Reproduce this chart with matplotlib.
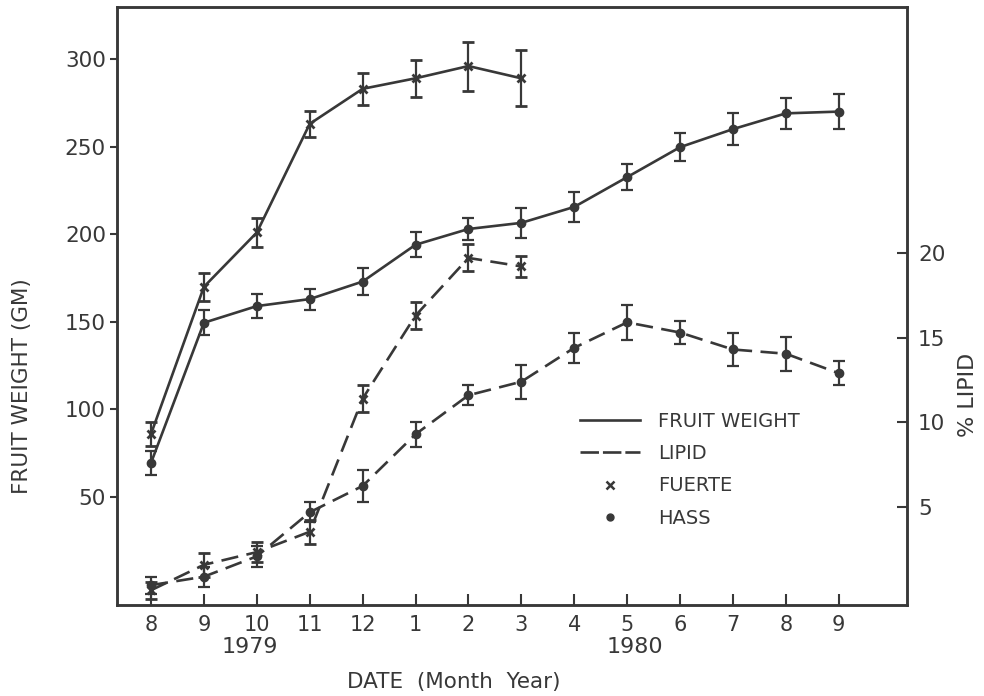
import numpy as np
import matplotlib
matplotlib.use("Agg")
import matplotlib.pyplot as plt
from matplotlib.lines import Line2D

# months from Aug 1979 to Sep 1980
months = ['8', '9', '10', '11', '12', '1', '2', '3', '4', '5', '6', '7', '8', '9']

# fruit weight (GM)
fuerte_wt = [86, 170, 201, 263, 283, 289, 296, 289]
fuerte_wt_err = [7, 8, 8.5, 7.5, 9, 10.5, 14, 16]
hass_wt = [69.5, 149.5, 159, 163, 173, 194, 203, 206.5, 215.6, 232.6, 249.7, 260, 269, 270]
hass_wt_err = [7, 7, 7, 6, 7.7, 7, 6, 8.5, 8.5, 7.5, 8, 9, 9, 10]

# % lipid
fuerte_lip = [0.1, 1.6, 2.35, 3.55, 11.4, 16.3, 19.7, 19.2]
fuerte_lip_err = [0.5, 0.7, 0.6, 0.7, 0.8, 0.8, 0.8, 0.6]
hass_lip = [0.4, 0.9, 2.1, 4.7, 6.25, 9.3, 11.6, 12.4, 14.4, 15.9, 15.3, 14.3, 14.05, 12.9]
hass_lip_err = [0.5, 0.6, 0.6, 0.6, 0.95, 0.75, 0.6, 1.0, 0.9, 1.05, 0.7, 0.95, 1.0, 0.7]

col = '#383838'
lw = 1.9
dash = (6.5, 3.2)

fig = plt.figure(figsize=(9.84, 6.96), dpi=100)
ax = fig.add_axes([117 / 984, 1 - 605 / 696, (907 - 117) / 984, (605 - 7) / 696])
ax2 = ax.twinx()

xf = np.arange(len(fuerte_wt))
xh = np.arange(len(hass_wt))

ekw = dict(color=col, ecolor=col, elinewidth=1.6, capsize=4, capthick=1.6)

ax.errorbar(xf, fuerte_wt, yerr=fuerte_wt_err, lw=lw, marker='x', ms=6, mew=2, **ekw)
ax.errorbar(xh, hass_wt, yerr=hass_wt_err, lw=lw, marker='o', ms=6, **ekw)

l1 = ax2.errorbar(xf, fuerte_lip, yerr=fuerte_lip_err, lw=lw, marker='x', ms=6, mew=2, **ekw)
l1[0].set_dashes(dash)
l2 = ax2.errorbar(xh, hass_lip, yerr=hass_lip_err, lw=lw, marker='o', ms=6, **ekw)
l2[0].set_dashes(dash)

ax.set_xlim(-0.643, 14.29)
ax.set_ylim(-11.6, 329.7)
ax2.set_ylim(-0.77, 34.5)

ax.set_xticks(xh)
ax.set_xticklabels(months)
ax.set_yticks([50, 100, 150, 200, 250, 300])
ax2.set_yticks([5, 10, 15, 20])

ax.tick_params(axis='x', direction='in', length=8, width=1.5, pad=7, labelsize=15, colors=col)
ax.tick_params(axis='y', direction='out', length=5, width=1.5, pad=3, labelsize=15.5, colors=col)
ax2.tick_params(axis='y', direction='in', length=7, width=1.5, pad=8, labelsize=15.5, colors=col)

for a in (ax, ax2):
    for s in a.spines.values():
        s.set_linewidth(1.8)
        s.set_color(col)

fig.text(250 / 984, 1 - 647 / 696, '1979', ha='center', va='center', fontsize=16, color=col)
fig.text(635 / 984, 1 - 647 / 696, '1980', ha='center', va='center', fontsize=16, color=col)
fig.text(454 / 984, 1 - 682 / 696, 'DATE  (Month  Year)', ha='center', va='center', fontsize=15.5, color=col)
fig.text(22 / 984, 1 - 386 / 696, 'FRUIT WEIGHT (GM)', ha='center', va='center', rotation=90,
         fontsize=15.5, color=col)
fig.text(968 / 984, 1 - 395 / 696, '% LIPID', ha='center', va='center', rotation=90,
         fontsize=16, color=col)

handles = [
    Line2D([], [], color=col, lw=lw),
    Line2D([], [], color=col, lw=lw, dashes=(7, 1.5)),
    Line2D([], [], color=col, lw=0, marker='x', ms=6, mew=1.8),
    Line2D([], [], color=col, lw=0, marker='o', ms=5),
]
leg = ax.legend(handles, ['FRUIT WEIGHT', 'LIPID', 'FUERTE', 'HASS'],
                loc='upper left', bbox_to_anchor=(580 / 984, 1 - 412 / 696),
                bbox_transform=fig.transFigure, frameon=False, fontsize=14,
                handlelength=3.1, handletextpad=0.9, labelspacing=0.68,
                borderpad=0, borderaxespad=0)
for t in leg.get_texts():
    t.set_color(col)

plt.savefig('out.png', dpi=100, facecolor='white')
